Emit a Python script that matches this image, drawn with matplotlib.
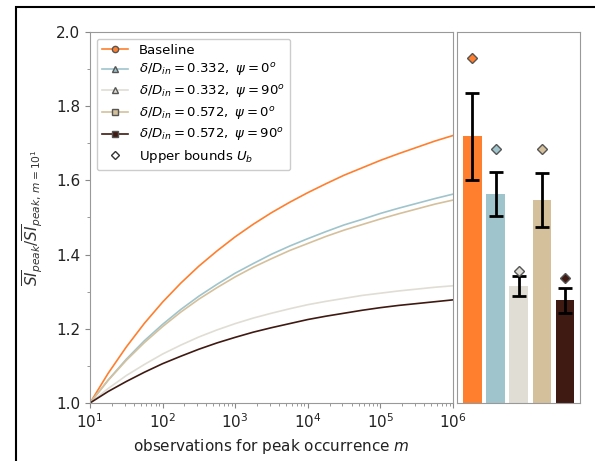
import matplotlib
matplotlib.use("Agg")
import matplotlib.pyplot as plt
import numpy as np
from matplotlib.patches import Rectangle

# ---- data ----
log_m = [1.0, 1.25, 1.5, 1.75, 2.0, 2.25, 2.5, 2.75, 3.0, 3.25, 3.5,
         3.75, 4.0, 4.25, 4.5, 4.75, 5.0, 5.25, 5.5, 5.75, 6.0]
baseline = [1.000, 1.080, 1.151, 1.215, 1.272, 1.323, 1.369, 1.410, 1.448, 1.482, 1.513,
            1.541, 1.567, 1.591, 1.614, 1.634, 1.654, 1.672, 1.689, 1.706, 1.721]
d332_psi0 = [1.000, 1.062, 1.118, 1.168, 1.212, 1.252, 1.288, 1.320, 1.350, 1.376, 1.401,
             1.423, 1.443, 1.462, 1.480, 1.495, 1.511, 1.525, 1.538, 1.551, 1.563]
d332_psi90 = [1.000, 1.039, 1.074, 1.104, 1.132, 1.156, 1.178, 1.197, 1.214, 1.229, 1.242,
              1.254, 1.265, 1.274, 1.282, 1.290, 1.296, 1.302, 1.307, 1.312, 1.316]
d572_psi0 = [1.000, 1.061, 1.115, 1.163, 1.206, 1.245, 1.280, 1.311, 1.340, 1.366, 1.389,
             1.411, 1.430, 1.449, 1.466, 1.481, 1.496, 1.510, 1.523, 1.536, 1.547]
d572_psi90 = [1.000, 1.031, 1.058, 1.083, 1.106, 1.126, 1.145, 1.162, 1.177, 1.191, 1.203,
              1.214, 1.225, 1.234, 1.242, 1.250, 1.257, 1.263, 1.268, 1.273, 1.278]

labels = [r'Baseline',
          r'$\delta/D_{in}=0.332,\ \psi=0^o$',
          r'$\delta/D_{in}=0.332,\ \psi=90^o$',
          r'$\delta/D_{in}=0.572,\ \psi=0^o$',
          r'$\delta/D_{in}=0.572,\ \psi=90^o$']
markers = ['o', '^', '^', 's', 's']
colors = ['#FF7F2E', '#A0C4CC', '#E0DDD4', '#D5C09C', '#3F1A12']

bar_values = [1.719, 1.563, 1.316, 1.548, 1.277]
bar_errors = [0.117, 0.060, 0.027, 0.073, 0.034]
upper_bounds = [1.929, 1.685, 1.357, 1.685, 1.336]

series = [baseline, d332_psi0, d332_psi90, d572_psi0, d572_psi90]

# ---- figure ----
fig = plt.figure(figsize=(5.95, 4.61), dpi=100)
fig.patches.append(Rectangle((16/595, -0.1), 1.2, 0.1 + 1 - 7/461,
                             transform=fig.transFigure, fill=False,
                             edgecolor='black', linewidth=1.5))

ax = fig.add_axes([90/595, 58/461, 363/595, 371/461])
ax2 = fig.add_axes([457/595, 58/461, 123/595, 371/461])

m = [10 ** v for v in log_m]
for vals, lab, mk, c in zip(series, labels, markers, colors):
    ax.plot(m, vals, color=c, lw=1.2)
    ax.plot([], [], color=c, marker=mk, markersize=4.5, markeredgecolor='#555555',
            lw=1.2, label=lab)
ax.plot([], [], ls='none', marker='D', markersize=4.5, markerfacecolor='white',
        markeredgecolor='#333333', label=r'Upper bounds $U_b$')

ax.set_xscale('log')
ax.set_xlim(10, 1e6)
ax.set_ylim(1.0, 2.0)
ax.set_yticks([1.0, 1.2, 1.4, 1.6, 1.8, 2.0])
ax.set_yticks([1.1, 1.3, 1.5, 1.7, 1.9], minor=True)
ax.set_xlabel(r'observations for peak occurrence $m$', fontsize=11, color='#222222')
ax.set_ylabel(r'$\overline{SI}_{peak}/\overline{SI}_{peak,\,m=10^1}$', fontsize=11,
              color='#333333', labelpad=8)
ax.tick_params(labelsize=11, colors='#222222', which='major')
ax.tick_params(which='both', color='#888888')
for sp in ax.spines.values():
    sp.set_color('#999999')

leg = ax.legend(loc='upper left', fontsize=9.5, frameon=True, framealpha=1,
                edgecolor='#cccccc', borderpad=0.4, labelspacing=0.35,
                handlelength=2.0)

# ---- right panel ----
x = np.arange(len(bar_values))
ax2.bar(x, [v - 1.0 for v in bar_values], bottom=1.0, width=0.8, color=colors)
ax2.errorbar(x, bar_values, yerr=bar_errors, fmt='none', ecolor='black',
             elinewidth=2, capsize=5, capthick=2)
for xi, ub, c in zip(x, upper_bounds, colors):
    ax2.plot(xi, ub, marker='D', markersize=5, color=c, markeredgecolor='#555555',
             ls='none')
ax2.set_xlim(-0.67, 4.65)
ax2.set_ylim(1.0, 2.0)
ax2.set_xticks([])
ax2.set_yticks([])
for sp in ax2.spines.values():
    sp.set_color('#999999')

fig.savefig('out.png', dpi=100)
